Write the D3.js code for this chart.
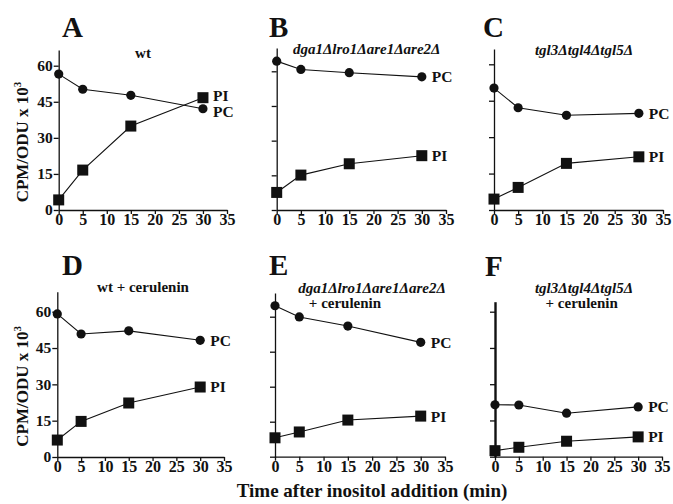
<!DOCTYPE html>
<html>
<head>
<meta charset="utf-8">
<script src="https://cdn.jsdelivr.net/npm/d3@7"></script>
<style>
  body { margin: 0; background: #fff; }
  text { font-family: "Liberation Serif", "DejaVu Serif", serif; font-weight: bold; fill: #111; }
</style>
</head>
<body>
<div id="chart"></div>
<script>
var width = 673, height = 504;

// data
var times = [0, 5, 15, 30];
var xTicks = [0, 5, 10, 15, 20, 25, 30, 35];
var yTicks = [0, 15, 30, 45, 60];
var panelLetters = ["A", "B", "C", "D", "E", "F"];
var panelTitles = [
  ["wt"],
  ["dga1\u0394lro1\u0394are1\u0394are2\u0394"],
  ["tgl3\u0394tgl4\u0394tgl5\u0394"],
  ["wt + cerulenin"],
  ["dga1\u0394lro1\u0394are1\u0394are2\u0394", "+ cerulenin"],
  ["tgl3\u0394tgl4\u0394tgl5\u0394", "+ cerulenin"]
];
var titleItalic = [false, true, true, false, true, true];
var pcValues = [
  [56.5, 50.2, 47.7, 42.1],
  [64.4, 60.8, 59.4, 57.6],
  [50.2, 42.1, 39.0, 39.8],
  [59.1, 50.8, 52.1, 48.2],
  [64.7, 59.9, 56.0, 49.0],
  [21.5, 21.4, 18.0, 20.6]
];
var piValues = [
  [4.2, 16.6, 34.9, 46.7],
  [7.6, 15.1, 20.0, 23.5],
  [4.5, 9.3, 19.2, 21.9],
  [7.0, 14.7, 22.3, 28.9],
  [8.1, 10.6, 15.7, 17.4],
  [2.5, 3.9, 6.4, 8.2]
];

// layout of each panel (pixel positions); nudge = label offsets [PC, PI]
var layout = [
  {xl: 58.7, xr: 227, y0: 210, y60: 65.7, top: 50, lx: 62, ly: 37, tx: 143, ty: 53, yLabels: true, axisW: 1.3, nudge: [2.5, -2.5]},
  {xl: 276.7, xr: 446, y0: 210, y60: 71.3, top: 48, lx: 269, ly: 37, tx: 366.7, ty: 49, yLabels: false, axisW: 1.3, nudge: [0, 0]},
  {xl: 494, xr: 663, y0: 210, y60: 64.3, top: 49, lx: 483, ly: 37, tx: 584, ty: 50, yLabels: false, axisW: 1.3, nudge: [0, 0]},
  {xl: 57.3, xr: 224, y0: 457, y60: 311.7, top: 291.7, lx: 62, ly: 275, tx: 143, ty: 286.7, yLabels: true, axisW: 1.3, nudge: [0, 0]},
  {xl: 275, xr: 445, y0: 456.7, y60: 316.7, top: 293, lx: 269, ly: 275, tx: 372, ty: 288, tx2: 345, yLabels: false, axisW: 1.3, nudge: [0, 0]},
  {xl: 495, xr: 662, y0: 456.7, y60: 311.7, top: 301.7, lx: 485, ly: 276, tx: 584, ty: 288, tx2: 581.7, yLabels: false, axisW: 2.4, nudge: [0, 0]}
];

var svg = d3.select("#chart")
  .append("svg")
    .attr("width", width)
    .attr("height", height);

layout.forEach(function (L, i) {
  var g = svg.append("g");

  var x = d3.scaleLinear().domain([0, 35]).range([L.xl, L.xr]);
  var y60 = d3.scaleLinear().domain([0, 60]).range([L.y0, L.y60]);
  var y = d3.scaleLinear().domain([0, y60.invert(L.top)]).range([L.y0, L.top]);

  // x axis
  var xAxis = g.append("g")
    .attr("transform", "translate(0," + L.y0 + ")")
    .call(d3.axisBottom(x).tickValues(xTicks).tickSize(4).tickSizeOuter(0).tickPadding(0));
  xAxis.selectAll("path, line").attr("stroke", "#111").attr("stroke-width", 1.3);
  xAxis.selectAll("text").style("font-size", "16px").attr("font-family", null);

  // y axis
  var yAxis = g.append("g")
    .attr("transform", "translate(" + L.xl + ",0)")
    .call(d3.axisLeft(y).tickValues(yTicks).tickSize(5).tickSizeOuter(0).tickPadding(1)
      .tickFormat(L.yLabels ? d3.format("d") : ""));
  yAxis.selectAll("line").attr("stroke", "#111").attr("stroke-width", 1.3);
  yAxis.select(".domain").attr("stroke", "#111").attr("stroke-width", L.axisW);
  yAxis.selectAll("text").style("font-size", "15.5px").attr("font-family", null);

  // lines and markers
  var line = d3.line()
    .x(function (d, j) { return x(times[j]); })
    .y(function (d) { return y(d); });

  g.append("path").datum(pcValues[i])
    .attr("d", line).attr("fill", "none").attr("stroke", "#111").attr("stroke-width", 1.1);
  g.append("path").datum(piValues[i])
    .attr("d", line).attr("fill", "none").attr("stroke", "#111").attr("stroke-width", 1.1);

  g.selectAll(".pc").data(pcValues[i]).enter()
    .append("circle")
      .attr("cx", function (d, j) { return x(times[j]); })
      .attr("cy", function (d) { return y(d); })
      .attr("r", 4.6)
      .attr("fill", "#111");

  g.selectAll(".pi").data(piValues[i]).enter()
    .append("rect")
      .attr("x", function (d, j) { return x(times[j]) - 5.5; })
      .attr("y", function (d) { return y(d) - 5.5; })
      .attr("width", 11)
      .attr("height", 11)
      .attr("fill", "#111");

  // series labels
  var last = times.length - 1;
  g.append("text")
    .attr("x", x(times[last]) + 10)
    .attr("y", y(pcValues[i][last]) + L.nudge[0])
    .attr("dy", "0.35em")
    .style("font-size", "15.5px")
    .text("PC");
  g.append("text")
    .attr("x", x(times[last]) + 10)
    .attr("y", y(piValues[i][last]) + L.nudge[1])
    .attr("dy", "0.35em")
    .style("font-size", "15.5px")
    .text("PI");

  // panel letter
  g.append("text")
    .attr("x", L.lx)
    .attr("y", L.ly)
    .style("font-size", "29px")
    .text(panelLetters[i]);

  // titles
  panelTitles[i].forEach(function (t, k) {
    g.append("text")
      .attr("x", k == 0 ? L.tx : L.tx2)
      .attr("y", L.ty + k * 15)
      .attr("dy", "0.35em")
      .attr("text-anchor", "middle")
      .style("font-size", "15px")
      .style("font-style", (k == 0 && titleItalic[i]) ? "italic" : "normal")
      .text(t);
  });

  // y axis title
  if (L.yLabels) {
    var yt = g.append("text")
      .attr("transform", "translate(28," + ((L.y0 + L.top) / 2 + 12) + ") rotate(-90)")
      .attr("text-anchor", "middle")
      .style("font-size", "17px");
    yt.append("tspan").text("CPM/ODU x 10");
    yt.append("tspan").attr("dy", "-7").style("font-size", "11px").text("3");
  }
});

svg.append("text")
  .attr("x", 372)
  .attr("y", 497)
  .attr("text-anchor", "middle")
  .style("font-size", "19px")
  .text("Time after inositol addition (min)");
</script>
</body>
</html>
